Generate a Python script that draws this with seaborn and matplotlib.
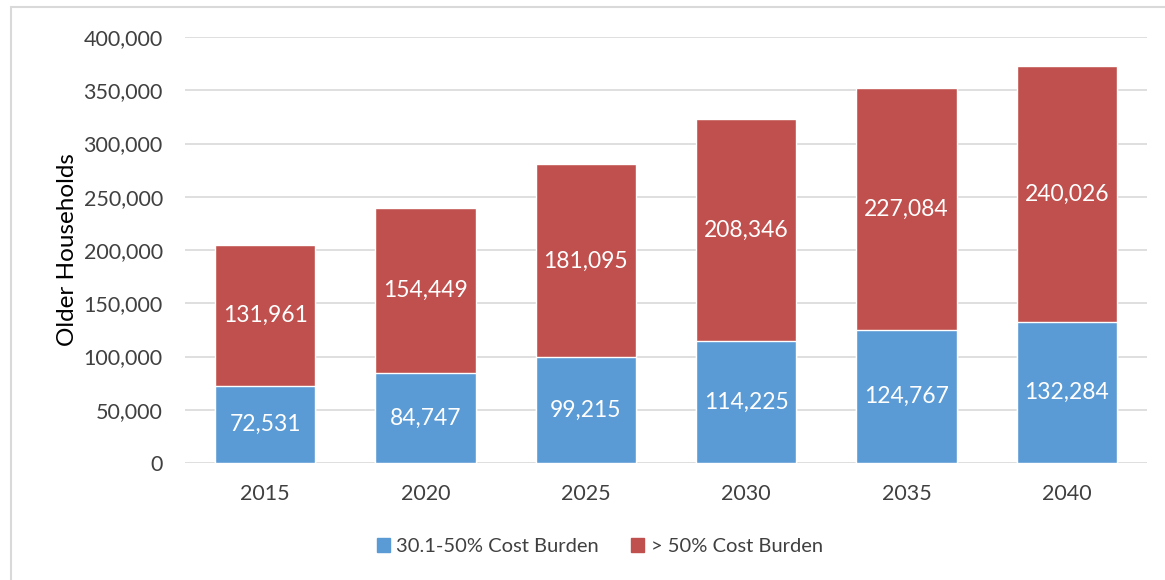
import matplotlib
matplotlib.use("Agg")
import matplotlib.pyplot as plt
import matplotlib.patches as mpatches
import pandas as pd
import seaborn as sns

years = ["2015", "2020", "2025", "2030", "2035", "2040"]
burden_30_50 = [72531, 84747, 99215, 114225, 124767, 132284]
burden_over_50 = [131961, 154449, 181095, 208346, 227084, 240026]
series_names = ["30.1-50% Cost Burden", "> 50% Cost Burden"]
blue = "#5B9BD5"
red = "#C0504D"

df = pd.DataFrame({"Year": years, "low": burden_30_50, "high": burden_over_50})
df["total"] = df["low"] + df["high"]

sns.set_style("white")
plt.rcParams["font.family"] = ["Lato", "DejaVu Sans"]

fig = plt.figure(figsize=(11.65, 5.8), dpi=100)
ax = fig.add_axes([0.1588, 0.2017, 0.9845 - 0.1588, 0.9362 - 0.2017])

# stacked: full height in red, then blue on top of it
sns.barplot(data=df, x="Year", y="total", color=red, width=0.625,
            saturation=1, ax=ax, zorder=2)
sns.barplot(data=df, x="Year", y="low", color=blue, width=0.625,
            saturation=1, ax=ax, zorder=3)

for i, (lo, hi) in enumerate(zip(df["low"], df["high"])):
    ax.text(i, lo / 2, f"{lo:,}", ha="center", va="center",
            color="white", fontsize=16.5, zorder=4)
    ax.text(i, lo + hi / 2, f"{hi:,}", ha="center", va="center",
            color="white", fontsize=16.5, zorder=4)

ax.set_ylim(0, 400000)
ax.set_xlim(-0.5, 5.5)
ax.set_yticks(range(0, 400001, 50000))
ax.set_yticklabels([f"{v:,}" for v in range(0, 400001, 50000)])
ax.yaxis.grid(True, color="#D9D9D9", linewidth=1.2, zorder=0)
ax.set_axisbelow(True)
for s in ax.spines.values():
    s.set_visible(False)
ax.tick_params(axis="both", length=0, labelsize=15.5, colors="#404040")
ax.tick_params(axis="y", pad=16)
ax.tick_params(axis="x", pad=15)
ax.set_xlabel("")
ax.set_ylabel("Older Households", fontsize=17.5, color="black", labelpad=4)

handles = [mpatches.Patch(color=blue, label=series_names[0]),
           mpatches.Patch(color=red, label=series_names[1])]
leg = fig.legend(handles=handles, loc="center", bbox_to_anchor=(0.515, 0.058),
                 ncol=2, frameon=False, fontsize=14.5, handlelength=0.65,
                 handleheight=0.65, handletextpad=0.3, columnspacing=1.6,
                 labelcolor="#404040")

# light frame around the chart (left and top visible in the original)
fig.add_artist(plt.Line2D([10.5 / 1165, 10.5 / 1165], [0, 1 - 7 / 580],
                          color="#D9D9D9", linewidth=1.5, transform=fig.transFigure))
fig.add_artist(plt.Line2D([10.5 / 1165, 1], [1 - 7 / 580, 1 - 7 / 580],
                          color="#D9D9D9", linewidth=1.5, transform=fig.transFigure))

fig.savefig("out.png", dpi=100)
